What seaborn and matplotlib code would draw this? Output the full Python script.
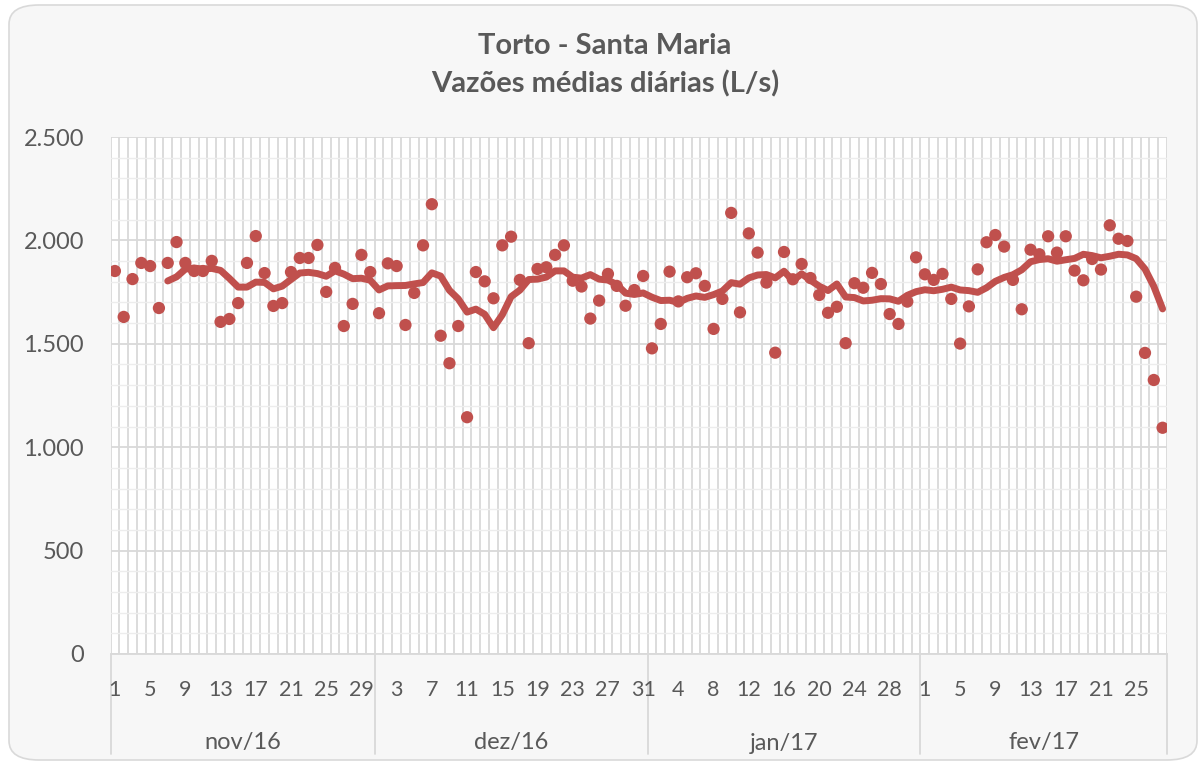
import numpy as np
import pandas as pd
import matplotlib
matplotlib.use("Agg")
import matplotlib.pyplot as plt
import matplotlib.transforms as mtransforms
import seaborn as sns
from matplotlib.patches import FancyBboxPatch
from matplotlib.ticker import FuncFormatter, MultipleLocator

# === Data ===
months = ["nov/16", "dez/16", "jan/17", "fev/17"]
month_days = [30, 31, 31, 28]

nov = [1852, 1630, 1813, 1891, 1876, 1673, 1891, 1992, 1891, 1852,
       1852, 1901, 1606, 1620, 1697, 1891, 2021, 1842, 1683, 1697,
       1847, 1915, 1915, 1978, 1751, 1867, 1586, 1693, 1930, 1847]
dez = [1648, 1889, 1876, 1591, 1746, 1976, 2175, 1539, 1406, 1586,
       1145, 1847, 1802, 1720, 1976, 2018, 1809, 1503, 1862, 1870,
       1930, 1976, 1805, 1777, 1622, 1709, 1838, 1780, 1684, 1760, 1828]
jan = [1478, 1596, 1849, 1705, 1822, 1841, 1780, 1572, 1717, 2133,
       1652, 2034, 1941, 1796, 1457, 1944, 1812, 1886, 1818, 1736,
       1650, 1679, 1503, 1793, 1771, 1843, 1789, 1644, 1596, 1704, 1918]
fev = [1836, 1809, 1838, 1717, 1501, 1681, 1860, 1991, 2026, 1970,
       1809, 1667, 1955, 1933, 2020, 1941, 2020, 1854, 1807, 1910,
       1859, 2073, 2008, 1997, 1728, 1456, 1325, 1094]

vazao = nov + dez + jan + fev
days = [d for n in month_days for d in range(1, n + 1)]

df = pd.DataFrame({"pos": np.arange(len(vazao)), "dia": days, "vazao": vazao})
# Excel trendline: 7-period moving average
df["media_movel"] = df["vazao"].rolling(7).mean()

# === Styling ===
sns.set_theme(style="white")
plt.rcParams["font.family"] = ["Lato", "DejaVu Sans"]
txt = "#595959"
red = "#C0504D"
grid_major = "#d9d9d9"
grid_minor = "#ededed"

W, H = 1203, 766
fig = plt.figure(figsize=(W / 100, H / 100), dpi=100)
fig.patch.set_facecolor("white")

# rounded chart border
box = FancyBboxPatch((9 / W, 6 / H), 1188 / W, 755 / H,
                     boxstyle="round,pad=0,rounding_size=0.025",
                     transform=fig.transFigure, facecolor="#f7f7f7",
                     edgecolor="#d9d9d9", linewidth=1.2, zorder=-5)
fig.add_artist(box)

left, right, top, bottom = 110.5, 1167, 137, 654
ax = fig.add_axes([left / W, 1 - bottom / H, (right - left) / W, (bottom - top) / H])
ax.set_facecolor("white")

sns.scatterplot(data=df, x="pos", y="vazao", ax=ax, color=red, s=78,
                edgecolor="none", zorder=3, legend=False)
sns.lineplot(data=df.dropna(), x="pos", y="media_movel", ax=ax, color=red,
             linewidth=5, zorder=4, legend=False,
             solid_joinstyle="round", solid_capstyle="round")

n = len(vazao)
ax.set_xlim(-0.5, n - 0.5)
ax.set_ylim(0, 2500)

# gridlines
ax.yaxis.set_major_locator(MultipleLocator(500))
ax.yaxis.set_minor_locator(MultipleLocator(100))
ax.set_xticks(np.arange(-0.5, n, 1.0), minor=True)
ax.set_xticks([])
ax.grid(which="major", axis="y", color=grid_major, linewidth=1.3, zorder=0)
ax.grid(which="minor", axis="y", color=grid_minor, linewidth=1.0, zorder=0)
ax.grid(which="minor", axis="x", color=grid_major, linewidth=1.3, zorder=0)
ax.set_axisbelow(True)

ax.yaxis.set_major_formatter(FuncFormatter(lambda v, p: f"{int(v):,}".replace(",", ".")))
ax.tick_params(axis="y", which="both", length=0, pad=19, labelsize=17, labelcolor=txt)
ax.tick_params(axis="x", which="minor", length=4, color=grid_major, direction="out")
ax.tick_params(axis="x", which="major", length=0)

for side in ["left", "right", "top"]:
    ax.spines[side].set_visible(False)
ax.spines["bottom"].set_color(grid_major)
ax.spines["bottom"].set_linewidth(1.3)
ax.set_xlabel("")
ax.set_ylabel("")

# two-level category axis
trans = mtransforms.blended_transform_factory(ax.transData, ax.transAxes)
ax_h = bottom - top
for i in range(0, n, 4):
    ax.text(i, -36 / ax_h, str(days[i]), transform=trans, ha="center", va="center",
            fontsize=15.5, color=txt)

start = 0
edges = [-0.5]
for m, nd in zip(months, month_days):
    ax.text(start + (nd - 1) / 2, -89 / ax_h, m, transform=trans, ha="center",
            va="center", fontsize=17, color=txt)
    start += nd
    edges.append(start - 0.5)
for e in edges:
    ax.plot([e, e], [0, -100 / ax_h], transform=trans, color=grid_major,
            linewidth=1.3, clip_on=False)

# title
fig.text(0.503, 1 - 46 / H, "Torto - Santa Maria", ha="center", va="center",
         fontsize=21, fontweight="bold", color=txt)
fig.text(0.503, 1 - 84 / H, "Vazões médias diárias (L/s)", ha="center", va="center",
         fontsize=21, fontweight="bold", color=txt)

plt.savefig("out.png", dpi=100, facecolor=fig.get_facecolor())
